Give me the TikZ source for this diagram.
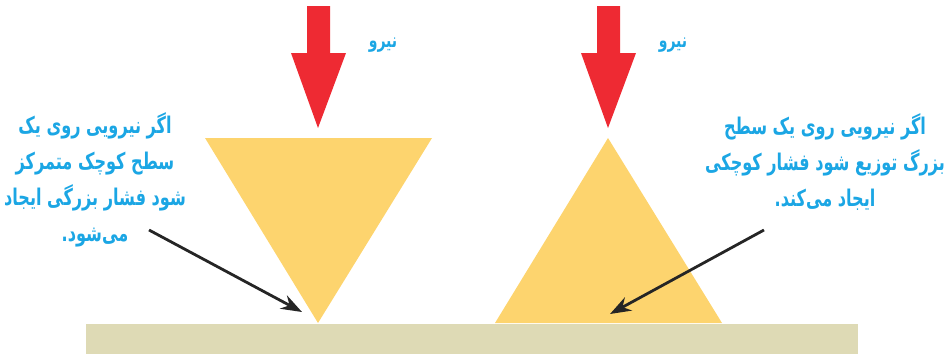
\documentclass[tikz,border=0pt]{standalone}
\usepackage{fontspec}
\newfontfamily\arabicfont[Script=Arabic,FakeStretch=0.7]{DejaVu Sans}
\TeXXeTstate=1
\usetikzlibrary{arrows.meta}
\definecolor{ForceRed}{HTML}{EE2A33}
\definecolor{PressureYellow}{HTML}{FDD46E}
\definecolor{SurfaceTan}{HTML}{DEDAB5}
\definecolor{NoteBlue}{HTML}{1BA6E4}
\definecolor{PointerBlack}{HTML}{252525}
\tikzset{
  forcearrow/.style={fill=ForceRed,draw=none},
  wedge/.style={fill=PressureYellow,draw=none},
  surface/.style={fill=SurfaceTan,draw=none,inner sep=0pt},
  forcelabel/.style={font=\arabicfont\bfseries\fontsize{20}{24}\selectfont,text=NoteBlue,inner sep=0pt},
  note/.style={align=center,font=\arabicfont\bfseries\fontsize{23}{36}\selectfont,text=NoteBlue,inner sep=0pt},
  pointer/.style={-{Stealth[length=21pt,width=15pt]},line width=2.8pt,draw=PointerBlack}
}
\begin{document}
\begin{tikzpicture}[x=1pt,y=-1pt]
  \useasboundingbox (0,0) rectangle (949,356);
  % ground and the two loaded bodies
  \node[surface,minimum width=772pt,minimum height=30pt] (ground) at (472,339) {};
  \fill[wedge] (205,138) -- (432,138) -- (318,323) -- cycle;
  \fill[wedge] (608,138) -- (722,323) -- (495,323) -- cycle;

  \coordinate (tipL) at (318,128);
  \coordinate (tipR) at (608,128);
  \foreach \tip in {tipL,tipR}
    \fill[forcearrow] (\tip) -- ++(-27,-75) -- ++(16,0) -- ++(0,-47)
      -- ++(23,0) -- ++(0,47) -- ++(16,0) -- cycle;

  \node[forcelabel] (forceL) at (383,45) {\beginR نیرو\endR};
  \node[forcelabel] (forceR) at (673,45) {\beginR نیرو\endR};

  \node[note] (smallnote) at (95,180)
    {\beginR اگر نیرویی روی یک\endR\\
     \beginR سطح کوچک متمرکز\endR\\
     \beginR شود فشار بزرگی ایجاد\endR\\
     \beginR می‌شود.\endR};
  \node[note] (largenote) at (825,162)
    {\beginR اگر نیرویی روی یک سطح\endR\\
     \beginR بزرگ توزیع شود فشار کوچکی\endR\\
     \beginR ایجاد می‌کند.\endR};

  \coordinate (smallTail) at (149,230);
  \coordinate (smallHead) at (302,312);
  \coordinate (largeTail) at (764,230);
  \coordinate (largeHead) at (610,314);
  \draw[pointer] (smallTail) -- (smallHead);
  \draw[pointer] (largeTail) -- (largeHead);
\end{tikzpicture}
\end{document}
